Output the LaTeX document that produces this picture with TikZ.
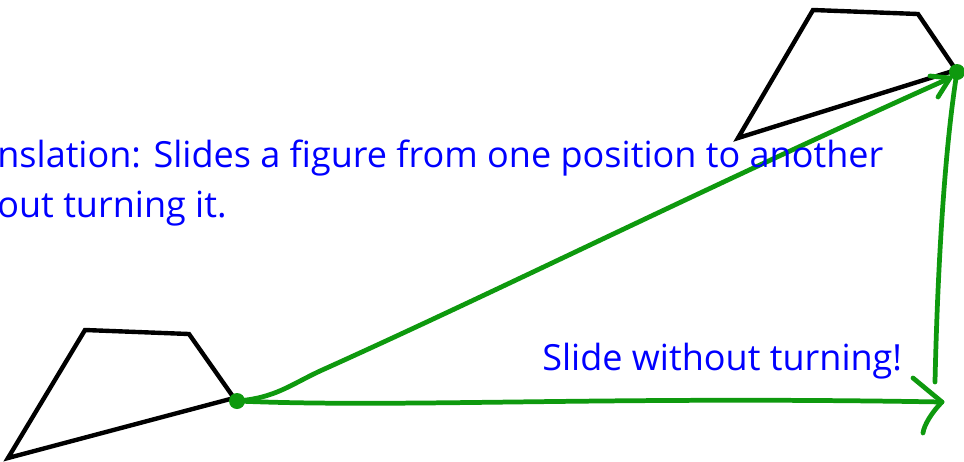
\documentclass[tikz,border=0pt]{standalone}
\usepackage{fontspec}
\setmainfont{Open Sans}
\usepackage{tikz}
\usetikzlibrary{calc}
\definecolor{slidegreen}{HTML}{0E990E}
\definecolor{noteblue}{HTML}{0000FF}

\begin{document}
\begin{tikzpicture}[
  x=0.02cm,y=-0.02cm,
  figure/.style={draw=black,line width=2.5pt,line join=miter},
  slide/.style={draw=slidegreen,line width=2.7pt,line cap=round,line join=round},
  dot/.style={circle,fill=slidegreen,inner sep=0pt,minimum size=0.32cm},
  note/.style={text=noteblue,font=\fontsize{20.5}{24}\selectfont,inner sep=0pt,anchor=base west}
]
  \useasboundingbox (0,0) rectangle (964,461);

  % figure before the slide
  \coordinate (p1) at (8,458);
  \coordinate (p2) at (85,330);
  \coordinate (p3) at (189,334);
  \coordinate (p4) at (234,398);
  \draw[figure] (p1) -- (p2) -- (p3) -- (p4) -- cycle;

  % figure after the slide
  \coordinate (q1) at (738,138);
  \coordinate (q2) at (813,10);
  \coordinate (q3) at (918,14);
  \coordinate (q4) at (956,70);
  \draw[figure] (q1) -- (q2) -- (q3) -- (q4) -- cycle;

  \node[dot] (start) at (237,401) {};
  \node[dot] (end) at (957,72) {};

  % the slide itself
  \coordinate (bend) at (320,371);
  \coordinate (diagtip) at (950,78);
  \coordinate (diagbarb1) at (930,76);
  \coordinate (diagbarb2) at (938,97);
  \draw[slide] (start.center) .. controls (275,398) and (290,385) .. (bend)
    .. controls (500,290) and (700,190) .. (diagtip);
  \draw[slide] (diagbarb1) -- (diagtip) -- (diagbarb2);

  % sideways and upwards
  \coordinate (tip) at (942,402);
  \coordinate (barb1) at (913,378);
  \coordinate (barb2) at (923,433);
  \coordinate (foot) at (935,382);
  \draw[slide] (start.center) .. controls (400,408) and (600,396) .. (tip);
  \draw[slide] (barb1) -- (tip) .. controls (932,412) and (924,425) .. (barb2);
  \draw[slide] (end.center) .. controls (946,140) and (938,250) .. (foot);

  % notes
  \node[note] (title) at (-3,167) {nslation: Slides a figure from one position to another};
  \node[note] (title2) at (-3,217) {out turning it.};
  \node[note] (label) at (542,370) {Slide without turning!};
\end{tikzpicture}
\end{document}
